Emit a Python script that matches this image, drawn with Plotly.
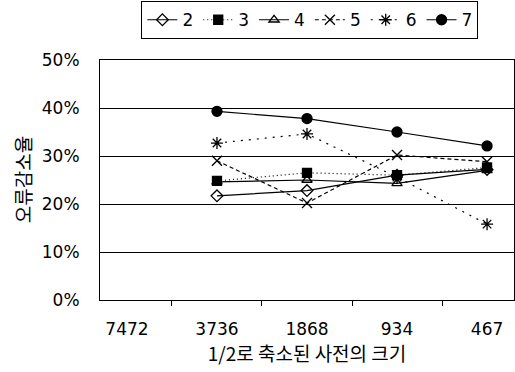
import plotly.graph_objects as go

categories = ["7472", "3736", "1868", "934", "467"]
series_names = ["2", "3", "4", "5", "6", "7"]
s2 = [None, 0.217, 0.228, 0.260, 0.272]
s3 = [None, 0.248, 0.265, 0.260, 0.276]
s4 = [None, 0.246, 0.250, 0.243, 0.270]
s5 = [None, 0.290, 0.202, 0.302, 0.288]
s6 = [None, 0.327, 0.346, 0.256, 0.158]
s7 = [None, 0.393, 0.378, 0.350, 0.321]
y_ticks = [0, 0.1, 0.2, 0.3, 0.4, 0.5]
x_title = "1/2로 축소된 사전의 크기"
y_title = "오류감소율"

styles = [
    dict(symbol="diamond-open", size=9, dash="solid"),
    dict(symbol="square", size=9, dash="1px,3px"),
    dict(symbol="triangle-up-open", size=9, dash="solid"),
    dict(symbol="x-thin-open", size=10, dash="4px,3px"),
    dict(symbol="asterisk-open", size=10, dash="2px,6px"),
    dict(symbol="circle", size=10, dash="solid"),
]
values = [s2, s3, s4, s5, s6, s7]

fig = go.Figure()
for name, vals, st in zip(series_names, values, styles):
    fig.add_trace(go.Scatter(
        x=categories, y=vals, name=name, mode="lines+markers",
        line=dict(color="black", width=1.2, dash=st["dash"]),
        marker=dict(symbol=st["symbol"], size=st["size"], color="black",
                    line=dict(color="black", width=1.3)),
    ))

font_main = "DejaVu Sans, Noto Sans CJK KR, sans-serif"
kr_font = "Noto Sans CJK KR, sans-serif"
fig.update_layout(
    width=515, height=372,
    margin=dict(l=100, r=1, t=60, b=72),
    plot_bgcolor="white", paper_bgcolor="white",
    font=dict(family=font_main, size=17, color="black"),
    showlegend=True,
    legend=dict(orientation="h", x=0.1, xanchor="left", y=1.245, yanchor="top",
                bordercolor="black", borderwidth=1, bgcolor="white",
                font=dict(size=17), itemwidth=30, tracegroupgap=0),
    xaxis=dict(type="category", categoryorder="array", categoryarray=categories,
               showline=True, linecolor="black", linewidth=1, mirror=True,
               ticks="outside", ticklen=5, tickcolor="black", tickson="boundaries",
               showgrid=False, ticklabelstandoff=14,
               title=dict(text=x_title, standoff=4,
                          font=dict(family=kr_font, size=19))),
    yaxis=dict(range=[0, 0.5], tickvals=y_ticks, tickformat=".0%",
               showline=True, linecolor="black", linewidth=1, mirror=True,
               showgrid=True, gridcolor="black", gridwidth=1, ticks="",
               ticklabelstandoff=16, zeroline=False),
    annotations=[dict(text=y_title, textangle=-90, xref="paper", yref="paper",
                      x=-0.188, y=0.5, xanchor="center", yanchor="middle",
                      showarrow=False, font=dict(family=kr_font, size=19))],
)
fig.write_html("out.html")
